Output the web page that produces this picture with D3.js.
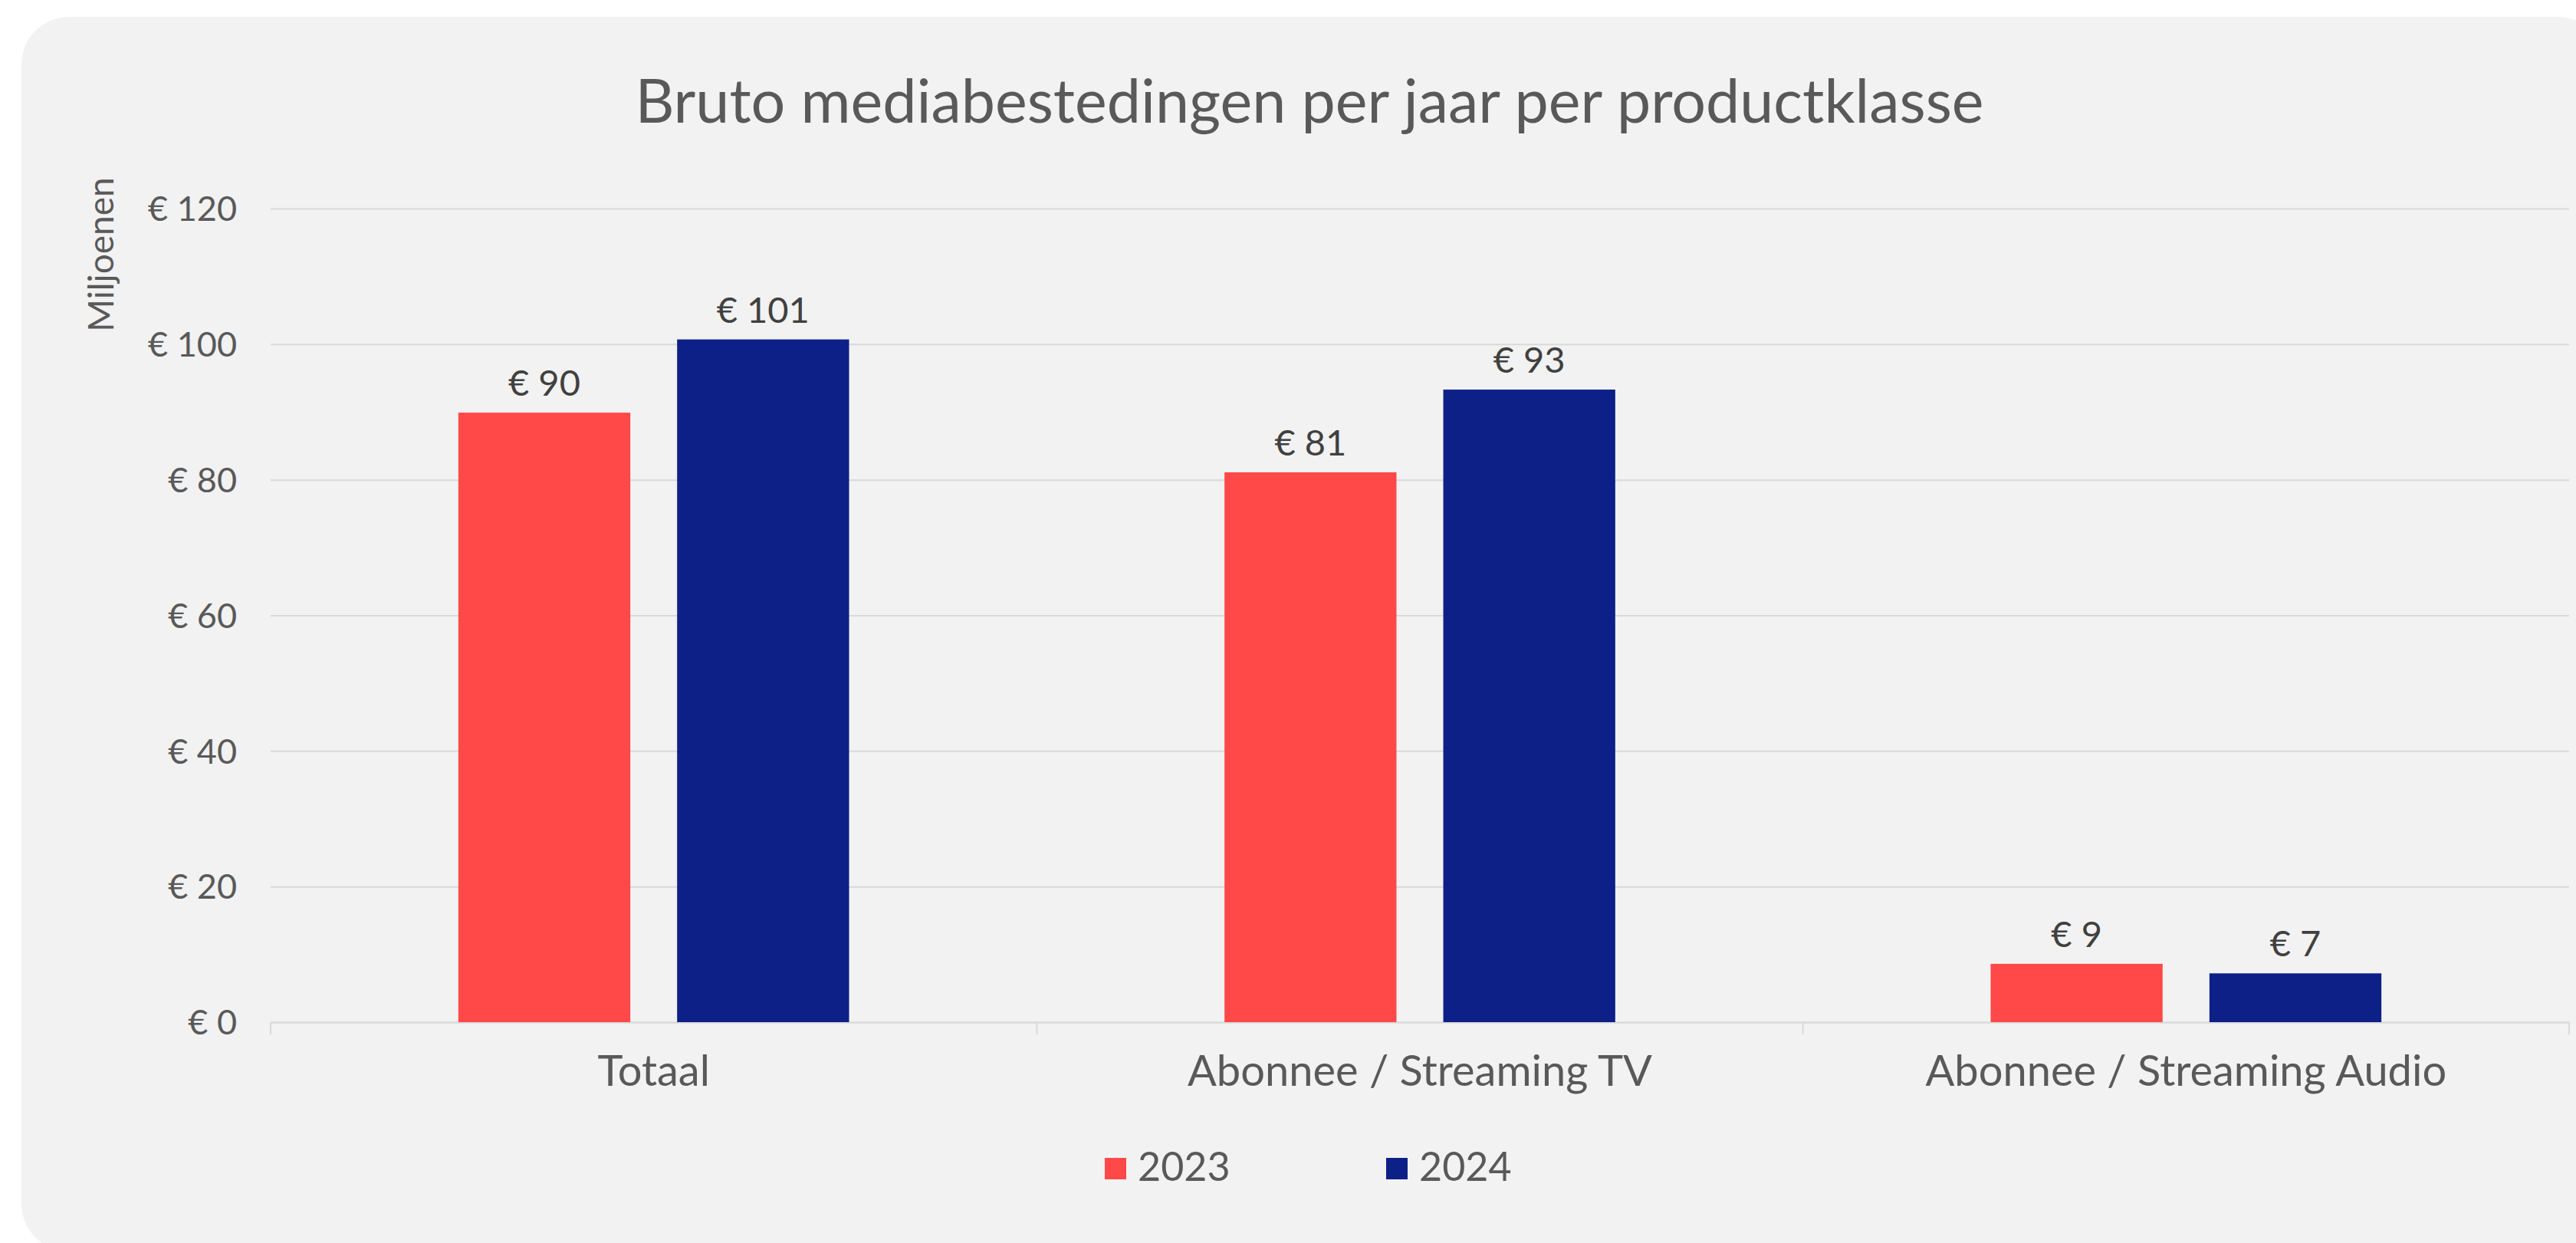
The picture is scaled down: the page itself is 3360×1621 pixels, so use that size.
<!DOCTYPE html>
<html>
<head>
<meta charset="utf-8">
<script src="https://cdn.jsdelivr.net/npm/d3@7"></script>
<style>
  html, body { margin: 0; padding: 0; background: #ffffff; }
  svg { display: block; }
  text { font-family: Lato, "Noto Sans", "Open Sans", sans-serif; }
</style>
</head>
<body>
<svg id="chart" width="3360" height="1621"></svg>
<script>
// ---- Data ----
const title = "Bruto mediabestedingen per jaar per productklasse";
const yAxisTitle = "Miljoenen";
const categories = ["Totaal", "Abonnee / Streaming TV", "Abonnee / Streaming Audio"];
const seriesNames = ["2023", "2024"];
const values2023 = [89.9, 81.1, 8.6];
const values2024 = [100.7, 93.3, 7.2];
const yTicks = [0, 20, 40, 60, 80, 100, 120];
const seriesColors = ["#FF4848", "#0D2087"];

// ---- Layout ----
const plot = { left: 353, right: 3351, top: 272, bottom: 1333 };
const gridColor = "#d9d9d9";
const textColor = "#595959";
const valueColor = "#404040";

const svg = d3.select("#chart");

// panel background
svg.append("rect")
  .attr("x", 28).attr("y", 22)
  .attr("width", 3371).attr("height", 1610)
  .attr("rx", 62).attr("ry", 62)
  .attr("fill", "#f2f2f2");

// scales
const y = d3.scaleLinear().domain([0, 120]).range([plot.bottom, plot.top]);
const x0 = d3.scaleBand().domain(categories).range([plot.left, plot.right]).paddingInner(0).paddingOuter(0);
const bw = x0.bandwidth();
const x1 = d3.scaleBand().domain(seriesNames).range([0.245 * bw, 0.755 * bw]).paddingInner(0.214).paddingOuter(0);
const color = d3.scaleOrdinal().domain(seriesNames).range(seriesColors);

// gridlines + y labels
const yAxis = d3.axisLeft(y).tickValues(yTicks).tickSize(-(plot.right - plot.left)).tickPadding(44)
  .tickFormat(d => "€ " + d);
const gy = svg.append("g").attr("transform", `translate(${plot.left},0)`).call(yAxis);
gy.select(".domain").remove();
gy.selectAll(".tick line").attr("stroke", gridColor).attr("stroke-width", 2);
gy.selectAll(".tick text")
  .attr("fill", textColor)
  .style("font-size", "45px")
  .attr("dy", "0.35em");

// x axis
const xAxis = d3.axisBottom(x0).tickSize(0).tickPadding(0);
const gx = svg.append("g").attr("transform", `translate(0,${plot.bottom})`).call(xAxis);
gx.select(".domain").attr("stroke", gridColor).attr("stroke-width", 2);
gx.selectAll(".tick text")
  .attr("fill", textColor)
  .style("font-size", "56px")
  .attr("y", 83).attr("dy", 0);
// category boundary ticks
const boundaries = categories.map(c => x0(c)).concat([x0(categories[categories.length - 1]) + bw]);
gx.selectAll("line.bound").data(boundaries).join("line")
  .attr("class", "bound")
  .attr("x1", d => d).attr("x2", d => d)
  .attr("y1", 0).attr("y2", 16)
  .attr("stroke", gridColor).attr("stroke-width", 2);

// bars
const rows = categories.map((c, i) => ({
  cat: c,
  vals: [
    { s: seriesNames[0], v: values2023[i] },
    { s: seriesNames[1], v: values2024[i] }
  ]
}));

const groups = svg.append("g").selectAll("g").data(rows).join("g")
  .attr("transform", d => `translate(${x0(d.cat)},0)`);

groups.selectAll("rect").data(d => d.vals).join("rect")
  .attr("x", d => x1(d.s))
  .attr("width", x1.bandwidth())
  .attr("y", d => y(d.v))
  .attr("height", d => y(0) - y(d.v))
  .attr("fill", d => color(d.s));

groups.selectAll("text.val").data(d => d.vals).join("text")
  .attr("class", "val")
  .attr("x", d => x1(d.s) + x1.bandwidth() / 2)
  .attr("y", d => y(d.v) - 22)
  .attr("text-anchor", "middle")
  .attr("fill", valueColor)
  .style("font-size", "47px")
  .text(d => "€ " + d3.format(".0f")(d.v));

// title
svg.append("text")
  .attr("x", 1708).attr("y", 160)
  .attr("text-anchor", "middle")
  .attr("fill", textColor)
  .style("font-size", "79px")
  .text(title);

// y axis title
svg.append("text")
  .attr("transform", "translate(148,332) rotate(-90)")
  .attr("text-anchor", "middle")
  .attr("fill", textColor)
  .style("font-size", "46px")
  .text(yAxisTitle);

// legend
const legendX = [1441, 1808];
const legend = svg.append("g").selectAll("g").data(seriesNames).join("g")
  .attr("transform", (d, i) => `translate(${legendX[i]},1510)`);
legend.append("rect")
  .attr("width", 28).attr("height", 28)
  .attr("fill", d => color(d));
legend.append("text")
  .attr("x", 43).attr("y", 30)
  .attr("fill", textColor)
  .style("font-size", "52px")
  .text(d => d);
</script>
</body>
</html>
